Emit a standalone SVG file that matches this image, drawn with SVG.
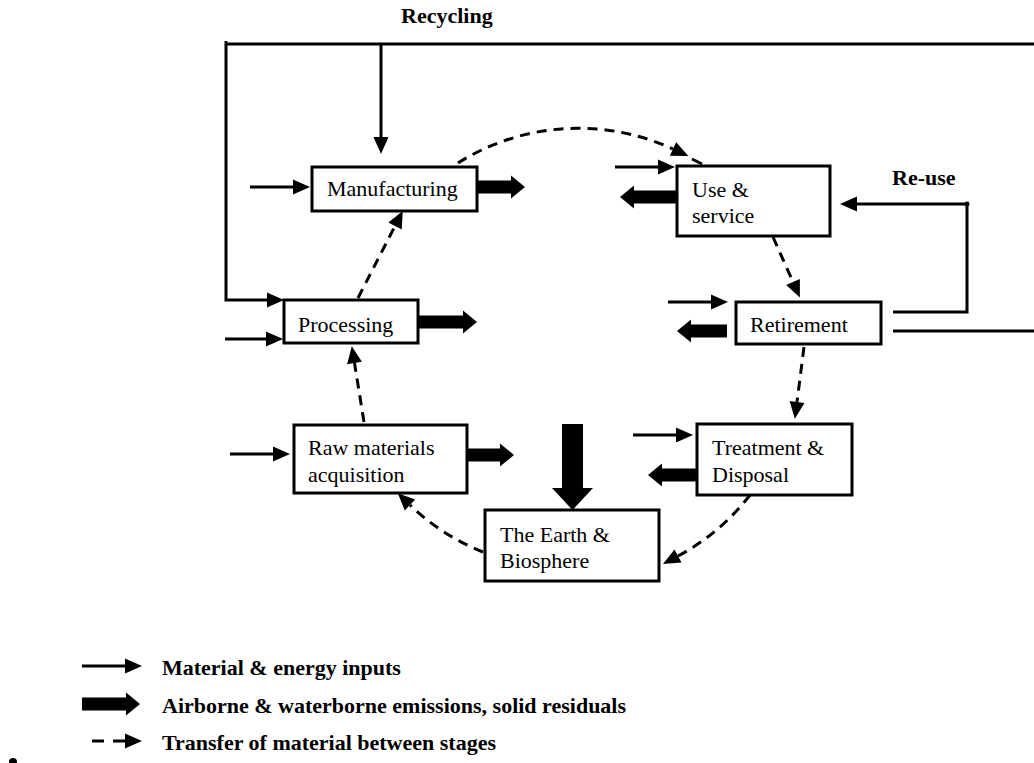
<svg xmlns="http://www.w3.org/2000/svg" width="1034" height="763" viewBox="0 0 1034 763">
<style>
.box{fill:#fff;stroke:#000;stroke-width:3}
.lbl{font-family:"Liberation Serif","Times New Roman",serif;font-size:22px;fill:#000}
.bold{font-family:"Liberation Serif","Times New Roman",serif;font-size:22px;font-weight:bold;fill:#000}
.ln{fill:none;stroke:#000;stroke-width:3}
.in{fill:none;stroke:#000;stroke-width:3;marker-end:url(#thin)}
.em{fill:none;stroke:#000;stroke-width:13;marker-end:url(#thick)}
.ds{fill:none;stroke:#000;stroke-width:3;stroke-dasharray:10 7;marker-end:url(#thin)}
</style>
<defs>
<marker id="thin" markerUnits="userSpaceOnUse" markerWidth="17" markerHeight="15" refX="0" refY="7.5" orient="auto" overflow="visible">
<path d="M0,0 L17,7.5 L0,15 Z" fill="#000"/>
</marker>
<marker id="thick" markerUnits="userSpaceOnUse" markerWidth="14" markerHeight="23" refX="0" refY="11.5" orient="auto" overflow="visible">
<path d="M0,0 L14,11.5 L0,23 Z" fill="#000"/>
</marker>
</defs>

<g id="connectors">
<!-- recycling loop -->
<path class="ln" d="M226,41 L226,300 L267,300"/>
<path d="M267,292.5 L284,300 L267,307.5 Z" fill="#000"/>
<path class="ln" d="M226,44 L1034,44"/>
<path class="in" d="M381,44 L381,137"/>
<!-- re-use loop -->
<path class="in" d="M893,312 L967,312 L967,204 L857,204"/>
<circle cx="967" cy="204" r="2.5" fill="#000"/>
<path class="ln" d="M893,331 L1034,331"/>
<!-- material inputs -->
<path class="in" d="M250,187 L293,187"/>
<path class="in" d="M615,167 L658,167"/>
<path class="in" d="M668,302 L711,302"/>
<path class="in" d="M225,339 L266,339"/>
<path class="in" d="M230,454 L273,454"/>
<path class="in" d="M633,435 L676,435"/>
<!-- emissions -->
<path class="em" d="M477,187 L511,187"/>
<path class="em" d="M418,322 L463,322"/>
<path class="em" d="M467,455 L500,455"/>
<path class="em" d="M677,197 L634,197"/>
<path class="em" d="M727,331 L691,331"/>
<path class="em" d="M697,475 L662,475"/>
<path d="M562,424 L583,424 L583,488 L593,488 L572.5,510 L552,488 L562,488 Z" fill="#000"/>
<!-- transfers between stages -->
<path class="ds" d="M458,163 A226,226 0 0 1 673,149"/>
<path class="ln" d="M692,159 L702,164"/>
<path class="ds" d="M773,237 L793,282"/>
<path class="ds" d="M804,347 L797,402"/>
<path class="ds" d="M750,495 A224,224 0 0 1 678,556"/>
<path class="ds" d="M483,552 A224,224 0 0 1 410,505"/>
<path class="ds" d="M364,422 L354.5,363"/>
<path class="ds" d="M358,298 L395,226"/>
</g>

<g id="node-manufacturing">
<rect class="box" x="312" y="167" width="165" height="44"/>
<text class="lbl" x="327" y="196">Manufacturing</text>
</g>
<g id="node-use">
<rect class="box" x="677" y="166" width="153" height="70"/>
<text class="lbl" x="692" y="197">Use &amp;</text>
<text class="lbl" x="692" y="223">service</text>
</g>
<g id="node-retirement">
<rect class="box" x="736" y="302" width="145" height="42"/>
<text class="lbl" x="750" y="332">Retirement</text>
</g>
<g id="node-processing">
<rect class="box" x="284" y="300" width="134" height="43"/>
<text class="lbl" x="298" y="332">Processing</text>
</g>
<g id="node-raw">
<rect class="box" x="294" y="425" width="173" height="68"/>
<text class="lbl" x="308" y="455">Raw materials</text>
<text class="lbl" x="308" y="482">acquisition</text>
</g>
<g id="node-treatment">
<rect class="box" x="697" y="424" width="155" height="71"/>
<text class="lbl" x="712" y="455">Treatment &amp;</text>
<text class="lbl" x="712" y="482">Disposal</text>
</g>
<g id="node-earth">
<rect class="box" x="485" y="510" width="174" height="71"/>
<text class="lbl" x="500" y="542">The Earth &amp;</text>
<text class="lbl" x="500" y="568">Biosphere</text>
</g>

<g id="labels">
<text class="bold" x="401" y="23">Recycling</text>
<text class="bold" x="892" y="185">Re-use</text>
</g>

<g id="legend">
<path class="in" d="M82,666 L125,666"/>
<text class="bold" x="162" y="675">Material &amp; energy inputs</text>
<path class="em" d="M82,704 L126,704"/>
<text class="bold" x="162" y="713">Airborne &amp; waterborne emissions, solid residuals</text>
<path class="ln" d="M92,741 L104,741"/>
<path class="in" d="M113,741 L125,741"/>
<text class="bold" x="162" y="750">Transfer of material between stages</text>
<circle cx="13" cy="762" r="4" fill="#000"/>
</g>
</svg>
